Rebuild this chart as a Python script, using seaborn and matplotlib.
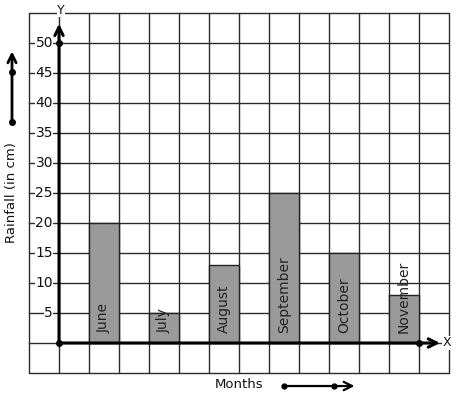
import matplotlib
matplotlib.use("Agg")
import matplotlib.pyplot as plt
import seaborn as sns
import numpy as np

months = ["June", "July", "August", "September", "October", "November"]
rainfall = [20, 5, 13, 25, 15, 8]
y_ticks = [5, 10, 15, 20, 25, 30, 35, 40, 45, 50]

sns.set_theme(style="white")
plt.rcParams['font.family'] = ['DejaVu Sans']

fig = plt.figure(figsize=(4.57, 3.99), dpi=100)
ax = fig.add_axes([0, 0, 1, 1])
ax.set_axis_off()

line_c = "#2b2b2b"
# grid: 14 columns x 12 rows
for u in range(-1, 14):
    ax.plot([u, u], [-5, 55], color=line_c, lw=1.0, zorder=1)
for v in range(-5, 56, 5):
    ax.plot([-1, 13], [v, v], color=line_c, lw=1.0, zorder=1)

positions = [1.5 + 2 * i for i in range(len(months))]
sns.barplot(x=positions, y=rainfall, native_scale=True, width=0.5,
            color="#9a9a9a", saturation=1, edgecolor="#222222", linewidth=1.0,
            ax=ax, zorder=2)

for p, m in zip(positions, months):
    ax.text(p, 1.6, m, rotation=90, ha="center", va="bottom", fontsize=10,
            color="#222222", zorder=4)

# y tick labels
for t in y_ticks:
    ax.text(-0.2, t, str(t), ha="right", va="center", fontsize=10, color="#111111",
            zorder=3, bbox=dict(facecolor="white", edgecolor="none", pad=0.2))

# axes with arrows
ax.annotate("", xy=(0, 53.2), xytext=(0, 0),
            arrowprops=dict(arrowstyle="->,head_length=0.5,head_width=0.25", lw=2.2,
                            color="black", shrinkA=0, shrinkB=0), zorder=5)
ax.annotate("", xy=(12.7, 0), xytext=(0, 0),
            arrowprops=dict(arrowstyle="->,head_length=0.5,head_width=0.25", lw=2.2,
                            color="black", shrinkA=0, shrinkB=0), zorder=5)
ax.plot([0, 0, 12], [0, 50, 0], "o", color="black", ms=4, zorder=6)

ax.text(0.07, 55.5, "Y", ha="center", va="center", fontsize=9, color="#111111",
        zorder=6, bbox=dict(facecolor="white", edgecolor="none", pad=0.3))
ax.text(12.93, 0, "X", ha="center", va="center", fontsize=9, color="#111111",
        zorder=6, bbox=dict(facecolor="white", edgecolor="none", pad=0.3))

# side label with arrow
ax.text(-1.57, 25, "Rainfall (in cm)", rotation=90, ha="center", va="center",
        fontsize=9.5, color="#111111")
ax.annotate("", xy=(-1.567, 48.6), xytext=(-1.567, 36.8),
            arrowprops=dict(arrowstyle="->,head_length=0.5,head_width=0.25", lw=2.0,
                            color="black", shrinkA=0, shrinkB=0))
ax.plot([-1.567, -1.567], [36.8, 45.2], "o", color="black", ms=4)

# bottom label with arrow
ax.text(6.0, -7.0, "Months", ha="center", va="center", fontsize=9.5, color="#111111")
ax.annotate("", xy=(9.85, -7.17), xytext=(7.5, -7.17),
            arrowprops=dict(arrowstyle="->,head_length=0.5,head_width=0.25", lw=1.6,
                            color="black", shrinkA=0, shrinkB=0))
ax.plot([7.5, 9.17], [-7.17, -7.17], "o", color="black", ms=3.5)

ax.set_xlim(-59 / 30, (457 - 59) / 30)
ax.set_ylim(-56 / 6, 343 / 6)

fig.savefig("out.png", dpi=100, facecolor="white")
